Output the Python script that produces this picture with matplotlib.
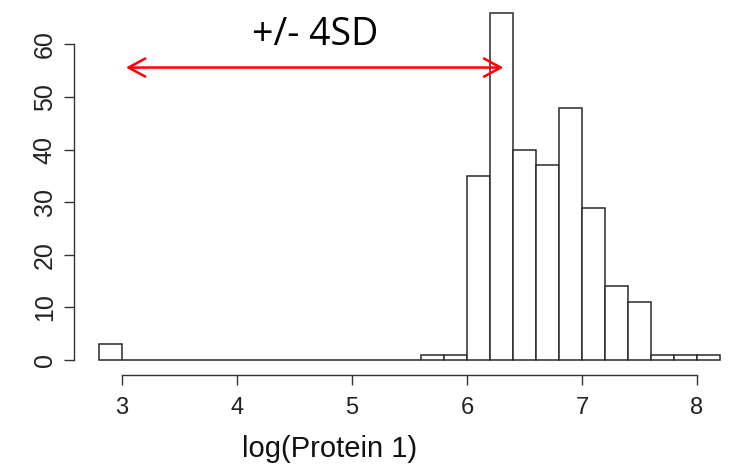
import numpy as np
import matplotlib
matplotlib.use("Agg")
import matplotlib.pyplot as plt

# histogram of log(Protein 1), bin width 0.2
bin_edges = np.round(np.arange(2.8, 8.2001, 0.2), 1)
counts = [3, 0, 0, 0, 0, 0, 0, 0, 0, 0, 0, 0, 0, 0,
          1, 1, 35, 66, 40, 37, 48, 29, 14, 11, 1, 1, 1]

x_ticks = [3, 4, 5, 6, 7, 8]
y_ticks = [0, 10, 20, 30, 40, 50, 60]
arrow_x = (3.01, 6.34)
arrow_y = 55.6
note = "+/- 4SD"

fig = plt.figure(figsize=(7.38, 4.69), dpi=100)
W, H = 738, 469
ax = fig.add_axes([90 / W, (H - 365) / H, 640 / W, 365 / H])

ax.bar(bin_edges[:-1], counts, width=0.2, align='edge',
       facecolor='white', edgecolor='#2a2a2a', linewidth=1.1)

ax.set_xlim(3 + (90 - 122) / 115, 3 + (730 - 122) / 115)
ax.set_ylim(-5 / 5.333, 365 / 5.333)

# R-style axes
for s in ['top', 'right']:
    ax.spines[s].set_visible(False)
ax.spines['left'].set_position(('outward', 11.5))
ax.spines['bottom'].set_position(('outward', 7.2))
ax.spines['left'].set_bounds(0, 60)
ax.spines['bottom'].set_bounds(3, 8)
for s in ['left', 'bottom']:
    ax.spines[s].set_color('#333333')
    ax.spines[s].set_linewidth(1.0)

ax.set_xticks(x_ticks)
ax.set_yticks(y_ticks)
ax.tick_params(axis='both', length=7.5, width=1.0, color='#333333',
               labelcolor='#222222')
ax.tick_params(axis='x', pad=8)
ax.tick_params(axis='y', pad=5)
for lab in ax.get_xticklabels():
    lab.set_fontfamily('Liberation Sans')
    lab.set_fontsize(17)
for lab in ax.get_yticklabels():
    lab.set_fontfamily('Liberation Sans')
    lab.set_fontsize(18)
    lab.set_rotation(90)
    lab.set_va('center')

ax.set_xlabel("log(Protein 1)", fontsize=21, family='Liberation Sans',
              color='#111111')
ax.xaxis.set_label_coords((330 - 90) / 640, -70 / 365)

ax.annotate('', xy=(arrow_x[0], arrow_y), xytext=(arrow_x[1], arrow_y),
            arrowprops=dict(arrowstyle='<->,head_length=1.2,head_width=0.65',
                            color='red', lw=1.8), annotation_clip=False)
ax.text(4.68, arrow_y + 2.6, note, fontsize=27, family='Open Sans',
        ha='center', va='bottom', color='black')

fig.savefig("out.png", dpi=100)
